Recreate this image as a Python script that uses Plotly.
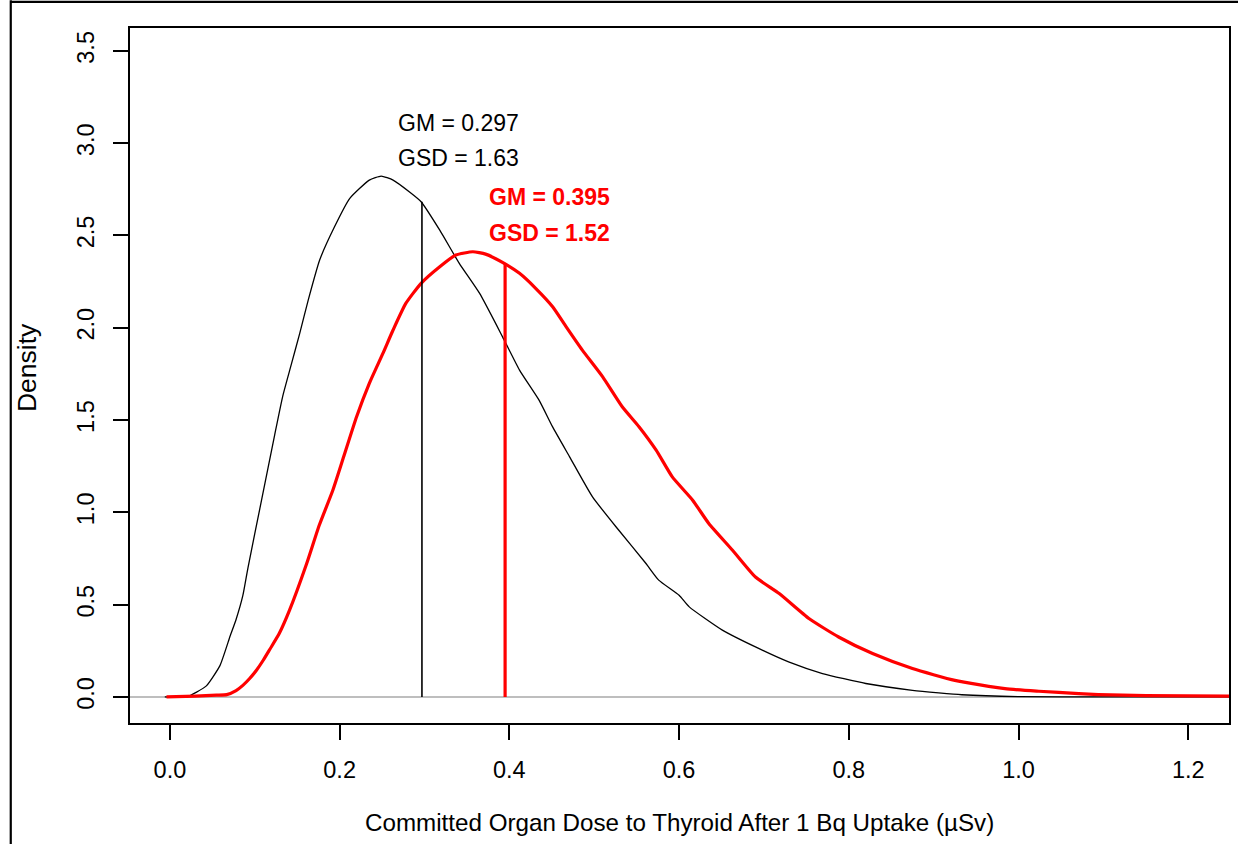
import plotly.graph_objects as go

# Kernel density of committed thyroid dose, two dose coefficient sets
dose_black = [-0.006, 0.02, 0.031, 0.043, 0.059, 0.071, 0.078, 0.086, 0.092, 0.108,
              0.1235, 0.133, 0.143, 0.153, 0.163, 0.1765, 0.194, 0.212, 0.235, 0.249,
              0.263, 0.282, 0.296, 0.318, 0.341, 0.365, 0.392, 0.412, 0.435, 0.451,
              0.471, 0.498, 0.529, 0.561, 0.576, 0.6, 0.612, 0.651, 0.690, 0.729,
              0.769, 0.820, 0.875, 0.906, 0.933, 1.0, 1.1, 1.25]
dens_black = [0.0, 0.0, 0.025, 0.06, 0.17, 0.33, 0.42, 0.55, 0.70, 1.066,
              1.42, 1.63, 1.80, 1.97, 2.15, 2.367, 2.547, 2.701, 2.80, 2.822,
              2.80, 2.737, 2.683, 2.529, 2.349, 2.186, 1.951, 1.771, 1.608, 1.463,
              1.301, 1.084, 0.903, 0.723, 0.633, 0.551, 0.488, 0.362, 0.271, 0.19,
              0.127, 0.073, 0.036, 0.022, 0.012, 0.002, 0.0, 0.0]

dose_red = [-0.004, 0.03, 0.055, 0.067, 0.078, 0.086, 0.094, 0.102, 0.110, 0.118,
            0.129, 0.141, 0.161, 0.176, 0.192, 0.204, 0.220, 0.235, 0.251, 0.263,
            0.278, 0.296, 0.318, 0.337, 0.357, 0.372, 0.394, 0.412, 0.431, 0.451,
            0.467, 0.486, 0.510, 0.533, 0.553, 0.573, 0.592, 0.616, 0.635, 0.663,
            0.690, 0.718, 0.753, 0.788, 0.828, 0.875, 0.925, 0.984, 1.024, 1.071,
            1.094, 1.15, 1.25]
dens_red = [0.0, 0.005, 0.01, 0.013, 0.035, 0.063, 0.1, 0.145, 0.199, 0.26,
            0.345, 0.47, 0.72, 0.93, 1.12, 1.29, 1.518, 1.699, 1.861, 1.988,
            2.132, 2.241, 2.331, 2.394, 2.412, 2.399, 2.349, 2.295, 2.214, 2.114,
            2.005, 1.879, 1.734, 1.572, 1.463, 1.337, 1.192, 1.066, 0.94, 0.795,
            0.650, 0.56, 0.425, 0.325, 0.235, 0.154, 0.09, 0.045, 0.031, 0.018,
            0.013, 0.007, 0.005]

# Geometric means and their density heights (vertical markers)
gm_values = [0.297, 0.395]
gm_heights = [2.683, 2.349]
gsd_values = [1.63, 1.52]

x_ticks = [0.0, 0.2, 0.4, 0.6, 0.8, 1.0, 1.2]
y_ticks = [0.0, 0.5, 1.0, 1.5, 2.0, 2.5, 3.0, 3.5]

x_title = "Committed Organ Dose to Thyroid After 1 Bq Uptake (µSv)"
y_title = "Density"

FONT = "Liberation Sans, Arial, sans-serif"
FS = 22

fig = go.Figure()

fig.add_trace(go.Scatter(x=dose_black, y=dens_black, mode="lines",
                         line=dict(color="black", width=1.3, shape="spline", smoothing=0.5),
                         hoverinfo="skip"))
fig.add_trace(go.Scatter(x=dose_red, y=dens_red, mode="lines",
                         line=dict(color="#ff0000", width=3.2, shape="spline", smoothing=0.5),
                         hoverinfo="skip"))

# GM markers
fig.add_trace(go.Scatter(x=[gm_values[0], gm_values[0]], y=[0, gm_heights[0]], mode="lines",
                         line=dict(color="black", width=1.6), hoverinfo="skip"))
fig.add_trace(go.Scatter(x=[gm_values[1], gm_values[1]], y=[0, gm_heights[1]], mode="lines",
                         line=dict(color="#ff0000", width=3.2), hoverinfo="skip"))

# Text labels
ann_font = 23
fig.add_annotation(x=0.266, y=3.112, xanchor="left", yanchor="middle", showarrow=False,
                   text=f"GM = {gm_values[0]:.3f}", font=dict(family=FONT, size=ann_font, color="black"))
fig.add_annotation(x=0.266, y=2.922, xanchor="left", yanchor="middle", showarrow=False,
                   text=f"GSD = {gsd_values[0]:.2f}", font=dict(family=FONT, size=ann_font, color="black"))
fig.add_annotation(x=0.3735, y=2.711, xanchor="left", yanchor="middle", showarrow=False,
                   text=f"<b>GM = {gm_values[1]:.3f}</b>", font=dict(family=FONT, size=ann_font, color="#ff0000"))
fig.add_annotation(x=0.3735, y=2.516, xanchor="left", yanchor="middle", showarrow=False,
                   text=f"<b>GSD = {gsd_values[1]:.2f}</b>", font=dict(family=FONT, size=ann_font, color="#ff0000"))

# Axis titles
fig.add_annotation(x=0.5, y=-0.1425, xref="paper", yref="paper", xanchor="center", yanchor="middle",
                   showarrow=False, text=x_title, font=dict(family=FONT, size=24.2, color="black"))
fig.add_annotation(x=-0.0935, y=0.511, xref="paper", yref="paper", xanchor="center", yanchor="middle",
                   showarrow=False, textangle=-90, text=y_title,
                   font=dict(family=FONT, size=26.5, color="black"))

# Outer frame (left and top edges)
fig.add_shape(type="line", xref="paper", yref="paper", x0=-0.1085, x1=-0.1085, y0=-0.25, y1=1.04,
              line=dict(color="black", width=2.2))
fig.add_shape(type="line", xref="paper", yref="paper", x0=-0.1085, x1=1.1, y0=1.0375, y1=1.0375,
              line=dict(color="black", width=2.2))

fig.update_layout(
    width=1238, height=844,
    margin=dict(l=130, r=7, t=28, b=121),
    paper_bgcolor="white", plot_bgcolor="white",
    showlegend=False,
    font=dict(family=FONT, size=FS, color="black"),
)
fig.update_xaxes(
    range=[-0.047, 1.248], tickvals=x_ticks, ticktext=[f"{v:.1f}" for v in x_ticks],
    ticks="outside", ticklen=15, tickwidth=1.5, tickcolor="black",
    tickfont=dict(family=FONT, size=23.5, color="black"), ticklabelstandoff=10,
    showline=True, linecolor="black", linewidth=1.6, mirror=True,
    showgrid=False, zeroline=False,
)
fig.update_yaxes(
    range=[-0.141, 3.624], tickvals=y_ticks, ticktext=[f"{v:.1f}" for v in y_ticks],
    ticks="outside", ticklen=15, tickwidth=1.5, tickcolor="black", tickangle=-90,
    tickfont=dict(family=FONT, size=23.5, color="black"), ticklabelstandoff=10,
    showline=True, linecolor="black", linewidth=1.6, mirror=True,
    showgrid=False, zeroline=True, zerolinecolor="#bebebe", zerolinewidth=1.5,
)

fig.write_html("out.html")
